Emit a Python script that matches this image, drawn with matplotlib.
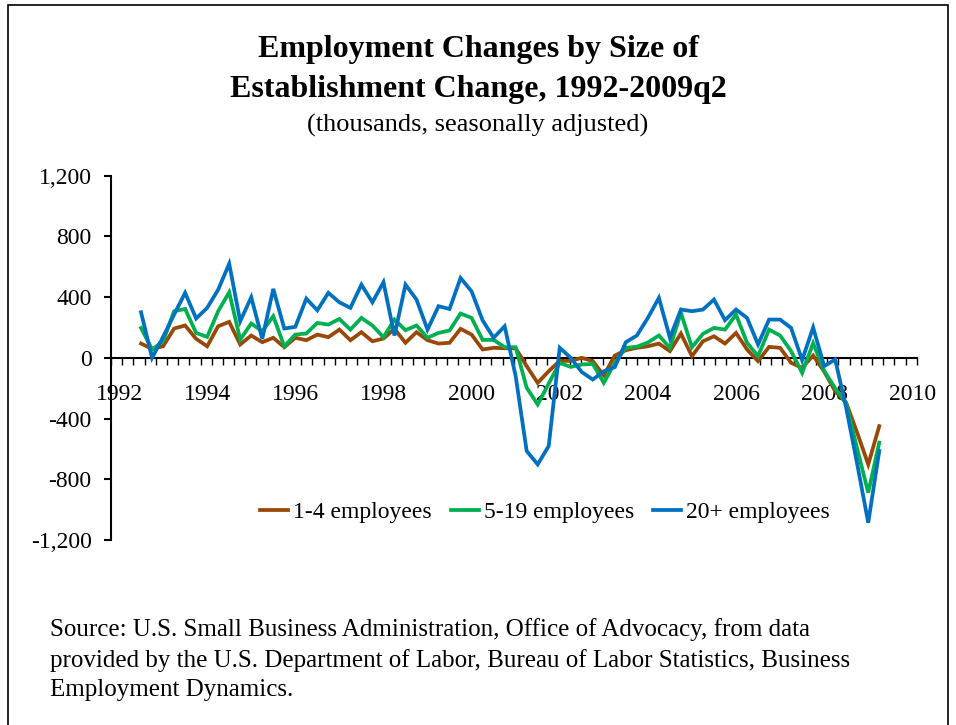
import numpy as np
import matplotlib
matplotlib.use('Agg')
import matplotlib.pyplot as plt
from matplotlib.ticker import FuncFormatter
from matplotlib.patches import Rectangle

plt.rcParams['font.family'] = ['Liberation Serif', 'DejaVu Serif']
plt.rcParams['axes.unicode_minus'] = False

# quarterly, 1992q3 .. 2009q2 (thousands, seasonally adjusted)
first_year = 1992.5
emp_1_4 = [94, 59, 76, 193, 213, 125, 76, 208, 237, 88, 147, 103, 132, 70, 132, 116,
           153, 136, 186, 116, 169, 109, 127, 191, 99, 169, 116, 94, 99, 191, 153, 55,
           66, 63, 63, -55, -165, -88, -20, -20, 0, -22, -116, 15, 50, 66, 76, 94,
           44, 160, 11, 109, 142, 94, 164, 55, -22, 72, 66, -33, -66, 15, -90, -220,
           -296, -494, -702, -450]
emp_5_19 = [197, 55, 109, 307, 322, 164, 138, 307, 432, 120, 226, 175, 274, 76, 153, 160,
            230, 219, 256, 186, 263, 213, 136, 252, 182, 213, 132, 164, 180, 292, 263, 118,
            118, 70, 70, -197, -307, -170, -33, -60, -44, -40, -165, -33, 66, 73, 101, 147,
            66, 296, 70, 158, 197, 186, 285, 99, 11, 186, 147, 44, -99, 96, -85, -200,
            -300, -600, -888, -559]
emp_20p = [300, 0, 138, 285, 428, 259, 329, 449, 620, 241, 399, 125, 454, 193, 204, 390,
           313, 428, 366, 329, 482, 366, 498, 147, 482, 384, 186, 340, 322, 526, 438, 247,
           132, 208, -120, -614, -702, -581, 66, 0, -94, -143, -88, -61, 103, 147, 263, 395,
           132, 318, 307, 318, 384, 248, 318, 263, 88, 252, 252, 197, -15, 200, -55, -11,
           -330, -700, -1086, -614]
labels = ['1-4 employees', '5-19 employees', '20+ employees']
colors = ['#984807', '#00B050', '#0070C0']
year_ticks = list(range(1992, 2011, 2))
y_ticks = [-1200, -800, -400, 0, 400, 800, 1200]

x = first_year + 0.25 * np.arange(len(emp_1_4))

fig = plt.figure(figsize=(9.56, 7.25), dpi=100)
ax = fig.add_axes([0.1161, 0.2552, 0.8428, 0.5025])

for y, lab, c in zip([emp_1_4, emp_5_19, emp_20p], labels, colors):
    ax.plot(x, y, color=c, linewidth=2.7, label=lab, zorder=3, solid_joinstyle='miter')

x0, x1 = 1991.818, 2010.10
ax.set_xlim(x0, x1)
ax.set_ylim(-1200, 1200)

ax.spines['top'].set_visible(False)
ax.spines['right'].set_visible(False)
ax.spines['bottom'].set_position(('data', 0))
for s in ['left', 'bottom']:
    ax.spines[s].set_linewidth(1.5)

ax.set_xticks(year_ticks)
ax.set_xticklabels([str(v) for v in year_ticks])
ax.set_xticks(np.linspace(x0, x1, 73), minor=True)
ax.tick_params(axis='x', which='major', length=0, pad=19, labelsize=17)
ax.tick_params(axis='x', which='minor', length=5, width=1.0, direction='out')

ax.set_yticks(y_ticks)
ax.yaxis.set_major_formatter(FuncFormatter(lambda v, p: f'{int(v):,}'))
ax.tick_params(axis='y', length=5, width=1.5, pad=9, labelsize=17)

fig.legend(loc='center', bbox_to_anchor=(0.570, 0.293), ncol=3, frameon=False,
           fontsize=17, handlelength=1.2, handletextpad=0.2, columnspacing=0.8)

fig.text(0.5, 0.904, 'Employment Changes by Size of\nEstablishment Change, 1992-2009q2',
         ha='center', va='center', fontsize=23, fontweight='bold', linespacing=1.49)
fig.text(0.5, 0.827, '(thousands, seasonally adjusted)', ha='center', va='center', fontsize=19)
fig.text(0.0523, 0.148,
         'Source: U.S. Small Business Administration, Office of Advocacy, from data\n'
         'provided by the U.S. Department of Labor, Bureau of Labor Statistics, Business\n'
         'Employment Dynamics.',
         ha='left', va='top', fontsize=18, linespacing=1.45)

fig.patches.append(Rectangle((8 / 956, -0.05), 940 / 956, 1.05 - 5 / 725,
                             transform=fig.transFigure, fill=False, edgecolor='black',
                             linewidth=1.2))

fig.savefig('out.png', dpi=100)
